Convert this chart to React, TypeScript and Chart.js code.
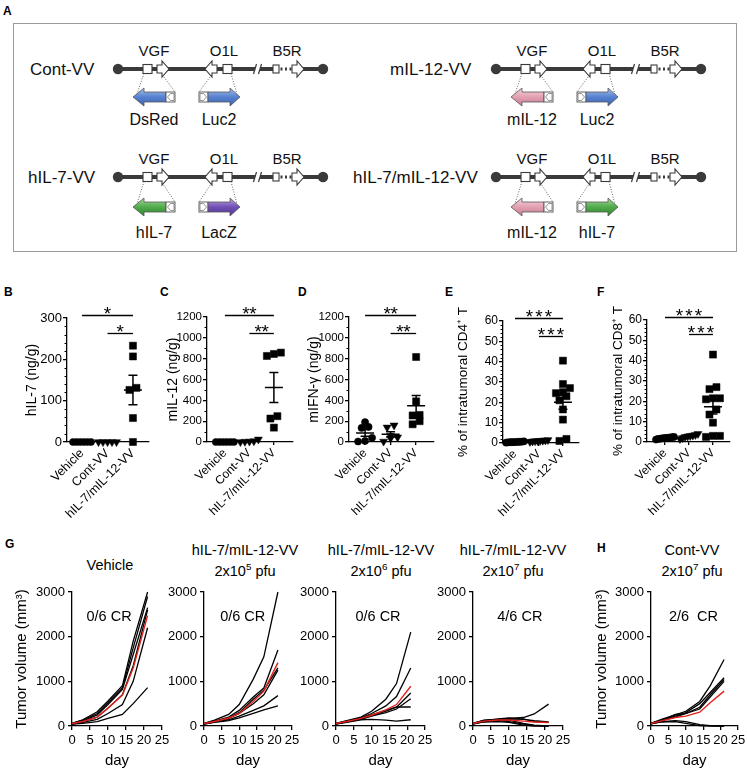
import React, { useEffect, useRef } from 'react';
import { Chart, registerables } from 'chart.js';

Chart.register(...registerables);

const FONT = '"Liberation Sans", Arial, Helvetica, sans-serif';
const RED = '#e3211c';

// ---------------- Panels B–F : data ----------------
const groups = ['Vehicle', 'Cont-VV', 'hIL-7/mIL-12-VV'];

const hil7Vehicle = [0, 0, 0, 0, 0, 0];
const hil7ContVV = [0, 0, 0, 0, 0];
const hil7Combo = [233, 207, 126, 131, 58, 0];

const mil12Vehicle = [0, 0, 0, 0, 0, 0];
const mil12ContVV = [25, 5, 8, 0, 3];
const mil12Combo = [826, 845, 858, 225, 248, 138];

const ifngVehicle = [145, 190, 135, 40, 10, 5];
const ifngContVV = [160, 60, 140, 5, 35, 45];
const ifngCombo = [816, 390, 255, 260, 170, 200];

const cd4Vehicle = [0.5, 0.3, 0.6, 0.4, 0.8, 0.2, 0.5, 0.7, 0.4, 0.6];
const cd4ContVV = [1.2, 0.8, 1.5, 1.0, 0.6, 1.3, 0.9, 1.1];
const cd4Combo = [40.5, 29, 27, 25, 24.5, 23, 21, 16.5, 11.5, 1, 2];

const cd8Vehicle = [2.0, 1.5, 2.5, 1.8, 2.2, 1.2, 1.9, 2.4, 1.6, 2.1];
const cd8ContVV = [3.5, 2.0, 4.0, 2.8, 1.5, 3.0, 2.5, 3.2];
const cd8Combo = [43, 27, 26, 21.5, 21, 21.5, 13.5, 16, 9.5, 3, 3, 2.5];

// ---------------- Panels G–H : data ----------------
const days = [0, 3, 7, 10, 14, 17, 21];
const dayTicks = [0, 5, 10, 15, 20, 25];
const volumeTicks = [0, 1000, 2000, 3000];

const vehicleMice = [
  [60, 140, 320, 560, 900, 1900, 3000],
  [60, 130, 280, 520, 850, 1750, 2900],
  [50, 110, 250, 480, 820, 1600, 2650],
  [50, 100, 200, 400, 700, 1350, 2600],
  [40, 80, 150, 280, 480, 1000, 2200],
  [40, 60, 100, 170, 260, 500, 860],
];
const vehicleMean = [55, 100, 200, 400, 690, 1300, 2470];

const dose5Mice = [
  [60, 130, 260, 480, 1050, 1550, 3000],
  [60, 110, 200, 350, 650, 850, 1700],
  [55, 100, 180, 300, 600, 800, 1300],
  [50, 100, 170, 280, 500, 700, 1250],
  [45, 90, 140, 220, 350, 450, 680],
  [40, 80, 120, 180, 280, 360, 450],
];
const dose5Mean = [55, 100, 180, 280, 550, 780, 1420];

const dose6Mice = [
  [60, 120, 200, 330, 600, 950, 2100],
  [60, 110, 180, 280, 450, 660, 1300],
  [50, 100, 160, 230, 330, 420, 740],
  [50, 90, 150, 220, 300, 380, 610],
  [50, 100, 170, 250, 350, 430, 425],
  [40, 80, 140, 150, 130, 110, 140],
];
const dose6Mean = [55, 100, 170, 240, 360, 480, 890];

const dose7Mice = [
  [60, 130, 150, 170, 190, 270, 490],
  [60, 120, 160, 180, 150, 120, 90],
  [50, 110, 140, 130, 60, 20, 0],
  [50, 100, 120, 100, 40, 10, 0],
  [60, 120, 140, 150, 160, 100, 80],
  [40, 90, 100, 80, 20, 0, 0],
];
const dose7Mean = [55, 110, 135, 135, 110, 90, 80];

const contMice = [
  [60, 150, 250, 330, 550, 900, 1490],
  [60, 130, 220, 300, 500, 750, 1080],
  [50, 120, 260, 280, 420, 700, 1040],
  [60, 120, 200, 280, 380, 650, 1000],
  [50, 100, 120, 100, 30, 10, 0],
  [50, 90, 100, 60, 10, 0, 0],
];
const contMean = [55, 115, 190, 220, 310, 520, 780];

// ---------------- helpers ----------------
function stats(values: number[]) {
  const n = values.length;
  const m = values.reduce((a, b) => a + b, 0) / n;
  const sd = n > 1 ? Math.sqrt(values.reduce((a, v) => a + (v - m) * (v - m), 0) / (n - 1)) : 0;
  return { m, sem: sd / Math.sqrt(n) };
}

// GraphPad-like horizontal spreading of overlapping points (computed from the values)
function spread(values: number[], gi: number, pxX: number, pxY: number, marker: number, maxSpan: number) {
  const idx = values.map((_, i) => i).sort((a, b) => values[a] - values[b]);
  const out: any[] = new Array(values.length);
  let i = 0;
  while (i < idx.length) {
    let j = i + 1;
    while (j < idx.length && (values[idx[j]] - values[idx[i]]) * pxY < marker * 0.8) j++;
    const n = j - i;
    const step = n > 1 ? Math.min(marker, maxSpan / (n - 1)) : 0;
    for (let k = 0; k < n; k++) {
      out[idx[i + k]] = { x: gi + ((k - (n - 1) / 2) * step) / pxX, y: values[idx[i + k]] };
    }
    i = j;
  }
  return out;
}

const plain = (v: any) => String(v);

const meanSemPlugin = {
  id: 'meanSem',
  beforeDatasetsDraw(chart: any, _a: any, opts: any) {
    if (!opts || !opts.groups) return;
    const { ctx } = chart;
    const xs = chart.scales.x;
    const ys = chart.scales.y;
    ctx.save();
    ctx.strokeStyle = '#000';
    ctx.lineWidth = 1.5;
    opts.groups.forEach((vals: number[], gi: number) => {
      const { m, sem } = stats(vals);
      const cx = xs.getPixelForValue(gi);
      const ym = ys.getPixelForValue(m);
      const yt = ys.getPixelForValue(m + sem);
      const yb = ys.getPixelForValue(m - sem);
      ctx.beginPath();
      ctx.moveTo(cx - 9, ym); ctx.lineTo(cx + 9, ym);
      if (sem > 0) {
        ctx.moveTo(cx, yt); ctx.lineTo(cx, yb);
        ctx.moveTo(cx - 4.5, yt); ctx.lineTo(cx + 4.5, yt);
        ctx.moveTo(cx - 4.5, yb); ctx.lineTo(cx + 4.5, yb);
      }
      ctx.stroke();
    });
    ctx.restore();
  },
};

const sigPlugin = {
  id: 'sig',
  afterDraw(chart: any, _a: any, opts: any) {
    if (!opts || !opts.items) return;
    const { ctx } = chart;
    const xs = chart.scales.x;
    const ys = chart.scales.y;
    ctx.save();
    ctx.strokeStyle = '#000';
    ctx.fillStyle = '#000';
    ctx.lineWidth = 1.3;
    ctx.font = `${opts.starSize}px ${FONT}`;
    ctx.textAlign = 'center';
    ctx.textBaseline = 'alphabetic';
    opts.items.forEach((it: any) => {
      const x1 = xs.getPixelForValue(it.from);
      const x2 = xs.getPixelForValue(it.to);
      const y = Math.round(ys.getPixelForValue(it.y)) + 0.5;
      ctx.beginPath(); ctx.moveTo(x1, y); ctx.lineTo(x2, y); ctx.stroke();
      const n = it.label.length;
      const cx = (x1 + x2) / 2;
      for (let k = 0; k < n; k++) {
        ctx.fillText('*', cx + (k - (n - 1) / 2) * opts.starStep, y + opts.starSize * 0.25);
      }
    });
    ctx.restore();
  },
};

const minorPlugin = {
  id: 'minor',
  afterDraw(chart: any, _a: any, opts: any) {
    if (!opts || !opts.step) return;
    const { ctx, chartArea } = chart;
    const ys = chart.scales.y;
    ctx.save();
    ctx.strokeStyle = '#000';
    ctx.lineWidth = 1;
    for (let v = ys.min; v <= ys.max + 1e-9; v += opts.step) {
      const r = v / opts.major;
      if (Math.abs(r - Math.round(r)) < 1e-6) continue;
      const p = Math.round(ys.getPixelForValue(v)) + 0.5;
      ctx.beginPath();
      ctx.moveTo(chartArea.left - 2.5, p);
      ctx.lineTo(chartArea.left, p);
      ctx.stroke();
    }
    ctx.restore();
  },
};

const notePlugin = {
  id: 'note',
  afterDatasetsDraw(chart: any, _a: any, opts: any) {
    if (!opts || !opts.text) return;
    const { ctx } = chart;
    ctx.save();
    ctx.font = `${opts.size}px ${FONT}`;
    ctx.fillStyle = '#000';
    ctx.textAlign = 'center';
    ctx.textBaseline = 'middle';
    ctx.fillText(opts.text, chart.scales.x.getPixelForValue(opts.x), chart.scales.y.getPixelForValue(opts.y));
    ctx.restore();
  },
};

type Rect = { l: number; t: number; w: number; h: number };
type Area = { l: number; t: number; r: number; b: number };

function makeScatter(p: any) {
  const c: Rect = p.canvas;
  const a: Area = p.area;
  const pxX = (a.r - a.l) / (p.xmax - p.xmin);
  const pxY = (a.b - a.t) / p.ymax;
  const styles = [
    { ps: 'circle', r: 3.6, rot: 0 },
    { ps: 'triangle', r: 4.6, rot: 180 },
    { ps: 'rect', r: 5, rot: 0 },
  ];
  const datasets = p.sets.map((vals: number[], gi: number) => ({
    label: groups[gi],
    data: spread(vals, gi, pxX, pxY, 7, 18),
    pointStyle: styles[gi].ps,
    pointRadius: styles[gi].r,
    pointRotation: styles[gi].rot,
    pointBackgroundColor: '#000',
    pointBorderColor: '#000',
    pointBorderWidth: 0.5,
    clip: false,
  }));
  return {
    type: 'scatter',
    data: { datasets },
    options: {
      animation: false,
      responsive: false,
      maintainAspectRatio: false,
      devicePixelRatio: 1,
      events: [],
      layout: { padding: { left: 0, top: a.t - c.t, right: c.l + c.w - a.r, bottom: 0 } },
      plugins: {
        legend: { display: false },
        tooltip: { enabled: false },
        meanSem: { groups: p.sets },
        sig: { items: p.sig, starSize: p.starSize, starStep: p.starStep },
        minor: { step: p.minor, major: p.ystep },
      },
      scales: {
        x: {
          type: 'linear',
          min: p.xmin,
          max: p.xmax,
          afterBuildTicks: (s: any) => { s.ticks = groups.map((_, i) => ({ value: i })); },
          afterFit: (s: any) => { s.height = c.t + c.h - a.b; s.paddingLeft = 0; s.paddingRight = 0; },
          ticks: {
            callback: (v: any) => groups[v],
            minRotation: 45,
            maxRotation: 45,
            autoSkip: false,
            padding: 1,
            color: '#000',
            font: { family: FONT, size: p.xTickSize },
          },
          grid: { drawOnChartArea: false, tickLength: 3, color: '#000', lineWidth: 1.3 },
          border: { color: '#000', width: 1.3 },
        },
        y: {
          min: 0,
          max: p.ymax,
          afterFit: (s: any) => { s.width = a.l - c.l; s.paddingTop = 0; s.paddingBottom = 0; },
          ticks: { stepSize: p.ystep, callback: plain, padding: 1, color: '#000', font: { family: FONT, size: p.tickSize } },
          grid: { drawOnChartArea: false, tickLength: 4, color: '#000', lineWidth: 1.3 },
          border: { color: '#000', width: 1.3 },
          title: {
            display: true,
            text: p.yTitle,
            color: '#000',
            font: { family: FONT, size: p.titleSize, lineHeight: 1 },
            padding: { top: p.titleX - c.l - p.titleSize / 2, bottom: 0 },
          },
        },
      },
    },
    plugins: [meanSemPlugin, sigPlugin, minorPlugin],
  };
}

function makeGrowth(p: any) {
  const c: Rect = p.canvas;
  const a: Area = p.area;
  const toPts = (arr: number[]) => arr.map((y, i) => ({ x: days[i], y }));
  const datasets = [
    { data: toPts(p.mean), borderColor: RED, borderWidth: 1.4, pointRadius: 0, tension: 0, fill: false, clip: 3 },
    ...p.mice.map((m: number[]) => ({ data: toPts(m), borderColor: '#000', borderWidth: 1.3, pointRadius: 0, tension: 0, fill: false, clip: 3 })),
  ];
  return {
    type: 'line',
    data: { datasets },
    options: {
      animation: false,
      responsive: false,
      maintainAspectRatio: false,
      devicePixelRatio: 1,
      events: [],
      layout: { padding: { left: 0, top: a.t - c.t, right: c.l + c.w - a.r, bottom: 0 } },
      plugins: {
        legend: { display: false },
        tooltip: { enabled: false },
        note: { text: p.note, x: p.noteX, y: p.noteY, size: 14.5 },
      },
      scales: {
        x: {
          type: 'linear',
          min: dayTicks[0],
          max: dayTicks[dayTicks.length - 1],
          afterBuildTicks: (s: any) => { s.ticks = dayTicks.map((v) => ({ value: v })); },
          afterFit: (s: any) => { s.height = c.t + c.h - a.b; s.paddingLeft = 0; s.paddingRight = 0; },
          ticks: { callback: plain, maxRotation: 0, autoSkip: false, padding: 3, color: '#000', font: { family: FONT, size: 13 } },
          grid: { drawOnChartArea: false, tickLength: 4, color: '#000', lineWidth: 1.3 },
          border: { color: '#000', width: 1.3 },
          title: { display: true, text: 'day', color: '#000', font: { family: FONT, size: 15, lineHeight: 1 }, padding: { top: 0, bottom: 0 } },
        },
        y: {
          min: volumeTicks[0],
          max: volumeTicks[volumeTicks.length - 1],
          afterBuildTicks: (s: any) => { s.ticks = volumeTicks.map((v) => ({ value: v })); },
          afterFit: (s: any) => { s.width = a.l - c.l; s.paddingTop = 0; s.paddingBottom = 0; },
          ticks: { callback: plain, padding: 3, color: '#000', font: { family: FONT, size: 13 } },
          grid: { drawOnChartArea: false, tickLength: 4, color: '#000', lineWidth: 1.3 },
          border: { color: '#000', width: 1.3 },
          title: p.yTitle
            ? { display: true, text: p.yTitle, color: '#000', font: { family: FONT, size: 15, lineHeight: 1 }, padding: { top: p.titleX - c.l - 7.5, bottom: 0 } }
            : { display: false },
        },
      },
    },
    plugins: [notePlugin],
  };
}

function ChartCanvas({ rect, make }: { rect: Rect; make: () => any }) {
  const ref = useRef<HTMLCanvasElement>(null);
  useEffect(() => {
    if (!ref.current) return;
    const ch = new Chart(ref.current, make());
    return () => ch.destroy();
  }, []);
  return (
    <canvas
      ref={ref}
      width={rect.w}
      height={rect.h}
      style={{ position: 'absolute', left: rect.l, top: rect.t, width: rect.w, height: rect.h }}
    />
  );
}

// ---------------- Panel A schematic ----------------
const GENE_FILLS: Record<string, string[]> = {
  blue: ['#a7c0ec', '#5782cf', '#3b63b0'],
  pink: ['#f5d3dc', '#e3a0b3', '#c67a91'],
  green: ['#a4d99e', '#52aa4b', '#2f8731'],
  purple: ['#b9a4e2', '#7150b6', '#513590'],
};

type CP = { x0: number; cy: number; gdy: number; ldy: number; name: string; nameX: number; left: [string, string]; right: [string, string] };

function Construct({ x0, cy, gdy, ldy, name, nameX, left, right }: CP) {
  const ink = '#3a3a3a';
  const X = (v: number) => x0 + v;
  const P = (arr: number[][], dy = 0) => arr.map(([x, y]) => `${x0 + x},${cy + dy + y}`).join(' ');
  const gy = cy + gdy;
  const rightArrow = (x: number) => [[x, -4], [x + 5, -4], [x + 5, -8], [x + 12, 0], [x + 5, 8], [x + 5, 4], [x, 4]];
  const leftArrow = (x: number) => [[x, -4], [x - 5, -4], [x - 5, -8], [x - 12, 0], [x - 5, 8], [x - 5, 4], [x, 4]];
  return (
    <g>
      <text x={nameX} y={cy} fontSize={17} dominantBaseline="central" fill="#111">{name}</text>
      <line x1={X(0)} y1={cy} x2={X(205)} y2={cy} stroke={ink} strokeWidth={4} />
      <circle cx={X(0)} cy={cy} r={5.2} fill={ink} />
      <circle cx={X(205)} cy={cy} r={5.2} fill={ink} />
      <polygon points={P([[135.5, 5], [138.5, -5], [143.5, -5], [140.5, 5]])} fill="#fff" />
      <line x1={X(135.5)} y1={cy + 5} x2={X(138.5)} y2={cy - 5} stroke={ink} strokeWidth={1.2} />
      <line x1={X(140.5)} y1={cy + 5} x2={X(143.5)} y2={cy - 5} stroke={ink} strokeWidth={1.2} />
      <rect x={X(161)} y={cy - 3} width={13} height={6} fill="#fff" />
      <line x1={X(162.5)} y1={cy} x2={X(174)} y2={cy} stroke={ink} strokeWidth={3} strokeDasharray="2 2.5" />
      <rect x={X(25)} y={cy - 4.5} width={9} height={9} fill="#fff" stroke={ink} strokeWidth={1.1} />
      <polygon points={P(rightArrow(39))} fill="#fff" stroke={ink} strokeWidth={1.1} />
      <polygon points={P(leftArrow(99))} fill="#fff" stroke={ink} strokeWidth={1.1} />
      <rect x={X(105)} y={cy - 4.5} width={9} height={9} fill="#fff" stroke={ink} strokeWidth={1.1} />
      <rect x={X(155)} y={cy - 4} width={6} height={8} fill="#fff" stroke={ink} strokeWidth={1.1} />
      <polygon points={P(rightArrow(174))} fill="#fff" stroke={ink} strokeWidth={1.1} />
      <text x={X(36)} y={cy - 19} fontSize={15} textAnchor="middle" dominantBaseline="central" fill="#111">VGF</text>
      <text x={X(106)} y={cy - 19} fontSize={15} textAnchor="middle" dominantBaseline="central" fill="#111">O1L</text>
      <text x={X(169)} y={cy - 19} fontSize={15} textAnchor="middle" dominantBaseline="central" fill="#111">B5R</text>
      <g stroke="#555" strokeWidth={0.9} strokeDasharray="1 1.6">
        <line x1={X(26)} y1={cy + 4.5} x2={X(19)} y2={gy - 3.3} />
        <line x1={X(43)} y1={cy + 4} x2={X(57)} y2={gy - 5} />
        <line x1={X(95)} y1={cy + 4} x2={X(81)} y2={gy - 5} />
        <line x1={X(113)} y1={cy + 4.5} x2={X(119)} y2={gy - 2.7} />
      </g>
      <polygon points={P([[48, -5], [26, -5], [26, -9], [15, 0], [26, 9], [26, 5], [48, 5]], gdy)} fill={`url(#g-${left[0]})`} stroke="#555" strokeWidth={0.8} />
      <rect x={X(48)} y={gy - 5} width={9} height={10} fill="#fff" stroke="#555" strokeWidth={0.9} />
      <polygon points={P([[56, -3.5], [52.5, -3.5], [49.5, 0], [52.5, 3.5], [56, 3.5]], gdy)} fill="#fff" stroke="#666" strokeWidth={0.7} />
      <rect x={X(81)} y={gy - 5} width={9} height={10} fill="#fff" stroke="#555" strokeWidth={0.9} />
      <polygon points={P([[82, -3.5], [85.5, -3.5], [88.5, 0], [85.5, 3.5], [82, 3.5]], gdy)} fill="#fff" stroke="#666" strokeWidth={0.7} />
      <polygon points={P([[90, -5], [112, -5], [112, -9], [122, 0], [112, 9], [112, 5], [90, 5]], gdy)} fill={`url(#g-${right[0]})`} stroke="#555" strokeWidth={0.8} />
      <text x={X(36)} y={cy + ldy} fontSize={16} textAnchor="middle" dominantBaseline="central" fill="#111">{left[1]}</text>
      <text x={X(101)} y={cy + ldy} fontSize={16} textAnchor="middle" dominantBaseline="central" fill="#111">{right[1]}</text>
    </g>
  );
}

function Schematic() {
  return (
    <svg width={747} height={262} style={{ position: 'absolute', left: 0, top: 0 }} fontFamily={FONT}>
      <defs>
        {Object.entries(GENE_FILLS).map(([k, c]) => (
          <linearGradient key={k} id={`g-${k}`} x1="0" y1="0" x2="0" y2="1">
            <stop offset="0" stopColor={c[0]} />
            <stop offset="0.5" stopColor={c[1]} />
            <stop offset="1" stopColor={c[2]} />
          </linearGradient>
        ))}
      </defs>
      <rect x={13.5} y={23.5} width={723} height={228} fill="none" stroke="#9a9a9a" strokeWidth={1} />
      <Construct x0={118} cy={69} gdy={28} ldy={50} name="Cont-VV" nameX={30} left={['blue', 'DsRed']} right={['blue', 'Luc2']} />
      <Construct x0={496} cy={69} gdy={28} ldy={50} name="mIL-12-VV" nameX={390} left={['pink', 'mIL-12']} right={['blue', 'Luc2']} />
      <Construct x0={118} cy={177} gdy={30} ldy={55} name="hIL-7-VV" nameX={28} left={['green', 'hIL-7']} right={['purple', 'LacZ']} />
      <Construct x0={496} cy={177} gdy={30} ldy={55} name="hIL-7/mIL-12-VV" nameX={353} left={['pink', 'mIL-12']} right={['green', 'hIL-7']} />
    </svg>
  );
}

// ---------------- panel configs ----------------
const scatterPanels = [
  {
    canvas: { l: 0, t: 295, w: 160, h: 235 }, area: { l: 67, t: 318, r: 149, b: 442 },
    xmin: -0.59, xmax: 2.63, ymax: 300, ystep: 100, minor: 20,
    yTitle: 'hIL-7 (ng/g)', titleSize: 14, titleX: 32, tickSize: 13, xTickSize: 12.5,
    sets: [hil7Vehicle, hil7ContVV, hil7Combo],
    sig: [{ from: 0, to: 2, y: 307, label: '*' }, { from: 1, to: 2, y: 264, label: '*' }],
    starSize: 19, starStep: 7,
  },
  {
    canvas: { l: 155, t: 295, w: 150, h: 235 }, area: { l: 207, t: 317, r: 293, b: 442 },
    xmin: -0.73, xmax: 2.78, ymax: 1200, ystep: 200, minor: 100,
    yTitle: 'mIL-12 (ng/g)', titleSize: 14, titleX: 173, tickSize: 11.5, xTickSize: 12,
    sets: [mil12Vehicle, mil12ContVV, mil12Combo],
    sig: [{ from: 0, to: 2, y: 1219, label: '**' }, { from: 1, to: 2, y: 1049, label: '**' }],
    starSize: 19, starStep: 7,
  },
  {
    canvas: { l: 300, t: 295, w: 142, h: 235 }, area: { l: 349, t: 317, r: 434, b: 442 },
    xmin: -0.63, xmax: 2.7, ymax: 1200, ystep: 200, minor: 100,
    yTitle: 'mIFN-γ (ng/g)', titleSize: 14, titleX: 314, tickSize: 11.5, xTickSize: 12,
    sets: [ifngVehicle, ifngContVV, ifngCombo],
    sig: [{ from: 0, to: 2, y: 1219, label: '**' }, { from: 1, to: 2, y: 1043, label: '**' }],
    starSize: 19, starStep: 7,
  },
  {
    canvas: { l: 445, t: 295, w: 145, h: 235 }, area: { l: 503, t: 321, r: 579, b: 443 },
    xmin: -0.5, xmax: 2.67, ymax: 60, ystep: 10, minor: 2,
    yTitle: '% of intratumoral CD4⁺ T', titleSize: 13.5, titleX: 463, tickSize: 12, xTickSize: 12,
    sets: [cd4Vehicle, cd4ContVV, cd4Combo],
    sig: [{ from: 0, to: 2, y: 61.6, label: '***' }, { from: 1, to: 2, y: 52.6, label: '***' }],
    starSize: 19, starStep: 9.5,
  },
  {
    canvas: { l: 590, t: 295, w: 157, h: 235 }, area: { l: 647, t: 320, r: 730, b: 442 },
    xmin: -0.75, xmax: 2.71, ymax: 60, ystep: 10, minor: 2,
    yTitle: '% of intratumoral CD8⁺ T', titleSize: 13.5, titleX: 618, tickSize: 12, xTickSize: 12,
    sets: [cd8Vehicle, cd8ContVV, cd8Combo],
    sig: [{ from: 0, to: 2, y: 61.6, label: '***' }, { from: 1, to: 2, y: 53, label: '***' }],
    starSize: 19, starStep: 9.5,
  },
];

const growthPanels = [
  { canvas: { l: 0, t: 580, w: 171, h: 188 }, area: { l: 72, t: 592, r: 162, b: 726 }, mice: vehicleMice, mean: vehicleMean, note: '0/6 CR', noteX: 10.3, noteY: 2450, yTitle: 'Tumor volume (mm³)', titleX: 22 },
  { canvas: { l: 160, t: 580, w: 145, h: 188 }, area: { l: 204, t: 592, r: 292, b: 726 }, mice: dose5Mice, mean: dose5Mean, note: '0/6 CR', noteX: 11, noteY: 2450 },
  { canvas: { l: 295, t: 580, w: 140, h: 188 }, area: { l: 336, t: 592, r: 425, b: 726 }, mice: dose6Mice, mean: dose6Mean, note: '0/6 CR', noteX: 11.8, noteY: 2450 },
  { canvas: { l: 430, t: 580, w: 143, h: 188 }, area: { l: 473, t: 592, r: 563, b: 726 }, mice: dose7Mice, mean: dose7Mean, note: '4/6 CR', noteX: 13, noteY: 2450 },
  { canvas: { l: 585, t: 580, w: 162, h: 188 }, area: { l: 651, t: 592, r: 738, b: 726 }, mice: contMice, mean: contMean, note: '2/6  CR', noteX: 12.2, noteY: 2450, yTitle: 'Tumor volume (mm³)', titleX: 602 },
];

function Letter({ x, cy, ch }: { x: number; cy: number; ch: string }) {
  return (
    <div style={{ position: 'absolute', left: x, top: cy - 7, fontSize: 12, lineHeight: '14px', fontWeight: 'bold', fontFamily: FONT, color: '#000' }}>{ch}</div>
  );
}

function Title({ cx, cy, children }: { cx: number; cy: number; children: any }) {
  return (
    <div style={{ position: 'absolute', left: cx - 100, width: 200, top: cy - 9, height: 18, lineHeight: '18px', textAlign: 'center', fontSize: 14.5, fontFamily: FONT, color: '#000', whiteSpace: 'nowrap' }}>
      {children}
    </div>
  );
}

const supStyle: any = { fontSize: '0.68em', verticalAlign: 'super', lineHeight: 0 };

export default function App() {
  return (
    <div style={{ position: 'absolute', left: 0, top: 0, width: 747, height: 770, overflow: 'hidden', background: '#fff', fontFamily: FONT }}>
      <Schematic />
      <Letter x={3} cy={11} ch="A" />
      <Letter x={4} cy={291.5} ch="B" />
      <Letter x={160} cy={291.5} ch="C" />
      <Letter x={298} cy={291.5} ch="D" />
      <Letter x={445} cy={291.5} ch="E" />
      <Letter x={597} cy={291.5} ch="F" />
      <Letter x={5} cy={544} ch="G" />
      <Letter x={597} cy={548} ch="H" />
      {scatterPanels.map((p, i) => (
        <ChartCanvas key={'s' + i} rect={p.canvas} make={() => makeScatter(p)} />
      ))}
      {growthPanels.map((p, i) => (
        <ChartCanvas key={'g' + i} rect={p.canvas} make={() => makeGrowth(p)} />
      ))}
      <Title cx={110} cy={565}>Vehicle</Title>
      <Title cx={245} cy={550}>hIL-7/mIL-12-VV</Title>
      <Title cx={245} cy={571}>2x10<sup style={supStyle}>5</sup> pfu</Title>
      <Title cx={381} cy={550}>hIL-7/mIL-12-VV</Title>
      <Title cx={381} cy={571}>2x10<sup style={supStyle}>6</sup> pfu</Title>
      <Title cx={513} cy={550}>hIL-7/mIL-12-VV</Title>
      <Title cx={513} cy={571}>2x10<sup style={supStyle}>7</sup> pfu</Title>
      <Title cx={692} cy={550}>Cont-VV</Title>
      <Title cx={692} cy={571}>2x10<sup style={supStyle}>7</sup> pfu</Title>
    </div>
  );
}
